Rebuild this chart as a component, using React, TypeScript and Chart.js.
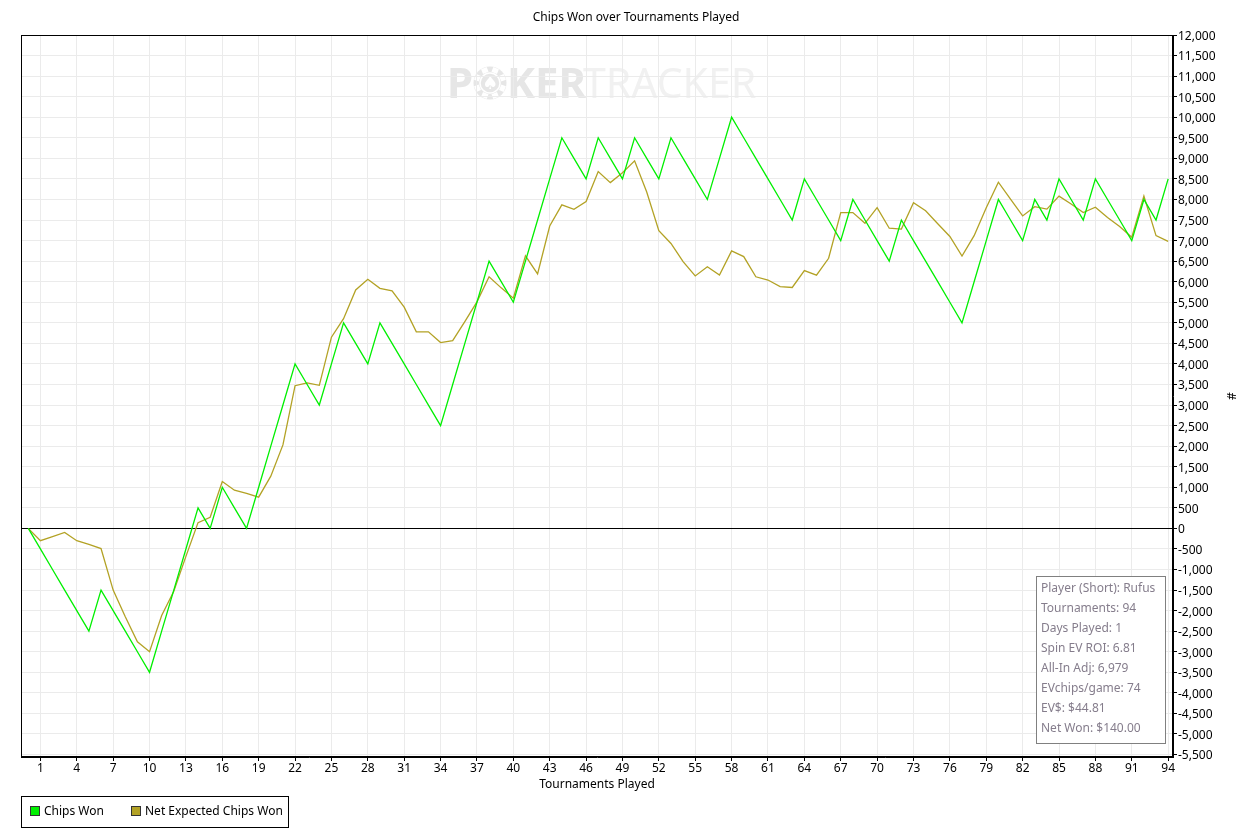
import React, { useEffect, useRef } from 'react';
import { Chart, registerables } from 'chart.js';

Chart.register(...registerables);

// ---------- DATA ----------
const chipsWon: number[] = [
  0, -500, -1000, -1500, -2000, -2500, -1500, -2000, -2500, -3000,
  -3500, -2500, -1500, -500, 500, 0, 1000, 500, 0, 1000,
  2000, 3000, 4000, 3500, 3000, 4000, 5000, 4500, 4000, 5000,
  4500, 4000, 3500, 3000, 2500, 3500, 4500, 5500, 6500, 6000,
  5500, 6500, 7500, 8500, 9500, 9000, 8500, 9500, 9000, 8500,
  9500, 9000, 8500, 9500, 9000, 8500, 8000, 9000, 10000, 9500,
  9000, 8500, 8000, 7500, 8500, 8000, 7500, 7000, 8000, 7500,
  7000, 6500, 7500, 7000, 6500, 6000, 5500, 5000, 6000, 7000,
  8000, 7500, 7000, 8000, 7500, 8500, 8000, 7500, 8500, 8000,
  7500, 7000, 8000, 7500, 8500,
];

const netExpectedChipsWon: number[] = [
  0, -300, -200, -100, -300, -390, -490, -1500, -2150, -2760,
  -3000, -2120, -1530, -680, 140, 270, 1140, 930, 850, 760,
  1270, 2030, 3470, 3540, 3480, 4650, 5100, 5800, 6060, 5840,
  5780, 5380, 4780, 4780, 4520, 4565, 5030, 5510, 6120, 5850,
  5600, 6630, 6190, 7355, 7870, 7760, 7950, 8680, 8410, 8650,
  8940, 8180, 7240, 6930, 6490, 6140, 6365, 6160, 6750, 6610,
  6120, 6040, 5880, 5860, 6270, 6160, 6570, 7680, 7680, 7420,
  7800, 7300, 7280, 7920, 7725, 7410, 7100, 6625, 7120, 7800,
  8420, 8010, 7600, 7825, 7765, 8080, 7890, 7680, 7810, 7560,
  7340, 7080, 8085, 7120, 6979,
];

const xTickValues: number[] = [
  1, 4, 7, 10, 13, 16, 19, 22, 25, 28, 31, 34, 37, 40, 43, 46,
  49, 52, 55, 58, 61, 64, 67, 70, 73, 76, 79, 82, 85, 88, 91, 94,
];

const yTickValues: number[] = [
  -5500, -5000, -4500, -4000, -3500, -3000, -2500, -2000, -1500, -1000, -500,
  0, 500, 1000, 1500, 2000, 2500, 3000, 3500, 4000, 4500, 5000, 5500, 6000,
  6500, 7000, 7500, 8000, 8500, 9000, 9500, 10000, 10500, 11000, 11500, 12000,
];

const seriesLabels: string[] = ['Chips Won', 'Net Expected Chips Won'];

const statsLines: string[] = [
  'Player (Short): Rufus',
  'Tournaments: 94',
  'Days Played: 1',
  'Spin EV ROI: 6.81',
  'All-In Adj: 6,979',
  'EVchips/game: 74',
  'EV$: $44.81',
  'Net Won: $140.00',
];

const chartTitle = 'Chips Won over Tournaments Played';
const xAxisTitle = 'Tournaments Played';
const yAxisTitle = '#';

// ---------- STYLE ----------
const W = 1246;
const H = 838;
const FONT = '"Noto Sans", "Open Sans", sans-serif';
const GREEN = '#00f000';
const OLIVE = '#b3a225';
const GRID = '#ebebeb';

const decoPlugin = {
  id: 'deco',
  beforeDraw(chart: any) {
    const c: CanvasRenderingContext2D = chart.ctx;
    c.save();
    c.fillStyle = '#ffffff';
    c.fillRect(0, 0, chart.width, chart.height);
    // watermark
    c.textBaseline = 'alphabetic';
    c.textAlign = 'left';
    c.fillStyle = '#e6e6e6';
    c.font = `bold 42px ${FONT}`;
    c.fillText('P', 447, 98);
    // chip
    const cx = 490, cy = 83, r = 16.5;
    c.beginPath();
    c.arc(cx, cy, r, 0, Math.PI * 2);
    c.fill();
    c.fillStyle = '#ffffff';
    for (let i = 0; i < 8; i++) {
      const a = (i * Math.PI) / 4 + Math.PI / 8;
      c.save();
      c.translate(cx + Math.cos(a) * (r - 3), cy + Math.sin(a) * (r - 3));
      c.rotate(a);
      c.fillRect(-2.5, -3, 5, 6);
      c.restore();
    }
    c.strokeStyle = '#ffffff';
    c.lineWidth = 1.5;
    c.beginPath();
    c.arc(cx, cy, r - 6.5, 0, Math.PI * 2);
    c.stroke();
    c.fillStyle = '#ffffff';
    c.font = `18px "DejaVu Sans", sans-serif`;
    c.textAlign = 'center';
    c.textBaseline = 'middle';
    c.fillText('\u2660', cx, cy + 1);
    c.textAlign = 'left';
    c.textBaseline = 'alphabetic';
    c.fillStyle = '#e6e6e6';
    c.font = `bold 42px ${FONT}`;
    c.fillText('KER', 507, 98);
    c.fillStyle = '#f1f1f1';
    c.font = `41px ${FONT}`;
    c.fillText('TRACKER', 583, 98);
    c.restore();
  },
  afterDraw(chart: any) {
    const c: CanvasRenderingContext2D = chart.ctx;
    const a = chart.chartArea;
    c.save();
    // plot border
    c.strokeStyle = '#000000';
    c.lineWidth = 1;
    c.strokeRect(Math.round(a.left) + 0.5, Math.round(a.top) + 0.5, Math.round(a.right - a.left) - 1, Math.round(a.bottom - a.top) - 1);

    c.fillStyle = '#000000';
    c.font = `12px ${FONT}`;
    c.textBaseline = 'middle';
    // title
    c.textAlign = 'center';
    c.fillText(chartTitle, 636, 17.5);
    // x title
    c.fillText(xAxisTitle, (a.left + a.right) / 2, 785);
    // y title rotated
    c.save();
    c.translate(1233, (a.top + a.bottom) / 2);
    c.rotate(-Math.PI / 2);
    c.fillText(yAxisTitle, 0, 0);
    c.restore();

    // legend
    c.textAlign = 'left';
    c.strokeStyle = '#000000';
    c.strokeRect(21.5, 796.5, 267, 31);
    const items = [
      { x: 30, color: GREEN, label: seriesLabels[0] },
      { x: 131, color: OLIVE, label: seriesLabels[1] },
    ];
    items.forEach((it) => {
      c.fillStyle = it.color;
      c.fillRect(it.x, 806, 10, 10);
      c.strokeStyle = '#333333';
      c.strokeRect(it.x + 0.5, 806.5, 9, 9);
      c.fillStyle = '#000000';
      c.fillText(it.label, it.x + 14, 811.5);
    });

    // stats box
    c.fillStyle = '#ffffff';
    c.fillRect(1036, 576, 130, 168);
    c.strokeStyle = '#808080';
    c.strokeRect(1036.5, 576.5, 129, 167);
    c.fillStyle = '#857d8c';
    c.font = `12px ${FONT}`;
    statsLines.forEach((t, i) => {
      c.fillText(t, 1041, 588.5 + i * 20);
    });
    c.restore();
  },
};

export default function App() {
  const ref = useRef<HTMLCanvasElement>(null);

  useEffect(() => {
    document.body.style.margin = '0';
    const canvas = ref.current;
    if (!canvas) return;
    const chart = new Chart(canvas, {
      type: 'line',
      data: {
        datasets: [
          {
            label: seriesLabels[0],
            data: chipsWon.map((v, i) => ({ x: i, y: v })),
            borderColor: GREEN,
            backgroundColor: GREEN,
            borderWidth: 1.3,
            pointRadius: 0,
            tension: 0,
            fill: false,
          },
          {
            label: seriesLabels[1],
            data: netExpectedChipsWon.map((v, i) => ({ x: i, y: v })),
            borderColor: OLIVE,
            backgroundColor: OLIVE,
            borderWidth: 1.3,
            pointRadius: 0,
            tension: 0,
            fill: false,
          },
        ],
      },
      options: {
        animation: false,
        responsive: false,
        maintainAspectRatio: false,
        layout: { padding: { left: 21, top: 35, right: 0, bottom: 0 } },
        plugins: {
          legend: { display: false },
          title: { display: false },
          tooltip: { enabled: false },
        },
        scales: {
          x: {
            type: 'linear',
            min: -0.6,
            max: 94.4,
            afterBuildTicks: (axis: any) => {
              axis.ticks = xTickValues.map((v) => ({ value: v }));
            },
            afterFit: (s: any) => {
              s.height = H - 757;
            },
            ticks: {
              autoSkip: false,
              maxRotation: 0,
              color: '#000000',
              padding: 0,
              font: { family: FONT, size: 12 },
              callback: (v: any) => String(v),
            },
            grid: {
              color: GRID,
              tickColor: '#000000',
              tickLength: 4,
            },
            border: { color: '#000000' },
          },
          y: {
            type: 'linear',
            position: 'right',
            min: -5560,
            max: 12000,
            afterBuildTicks: (axis: any) => {
              axis.ticks = yTickValues.map((v) => ({ value: v }));
            },
            afterFit: (s: any) => {
              s.width = W - 1173;
            },
            ticks: {
              autoSkip: false,
              color: '#000000',
              padding: 1,
              labelOffset: 1.5,
              font: { family: FONT, size: 12 },
              callback: (v: any) => Number(v).toLocaleString('en-US'),
            },
            grid: {
              color: (ctx: any) => (ctx.tick && ctx.tick.value === 0 ? '#000000' : GRID),
              tickColor: '#000000',
              tickLength: 4,
            },
            border: { color: '#000000' },
          },
        },
      },
      plugins: [decoPlugin],
    });
    return () => chart.destroy();
  }, []);

  return (
    <div style={{ width: W, height: H, position: 'relative' }}>
      <canvas ref={ref} width={W} height={H} style={{ display: 'block', width: W, height: H }} />
    </div>
  );
}
